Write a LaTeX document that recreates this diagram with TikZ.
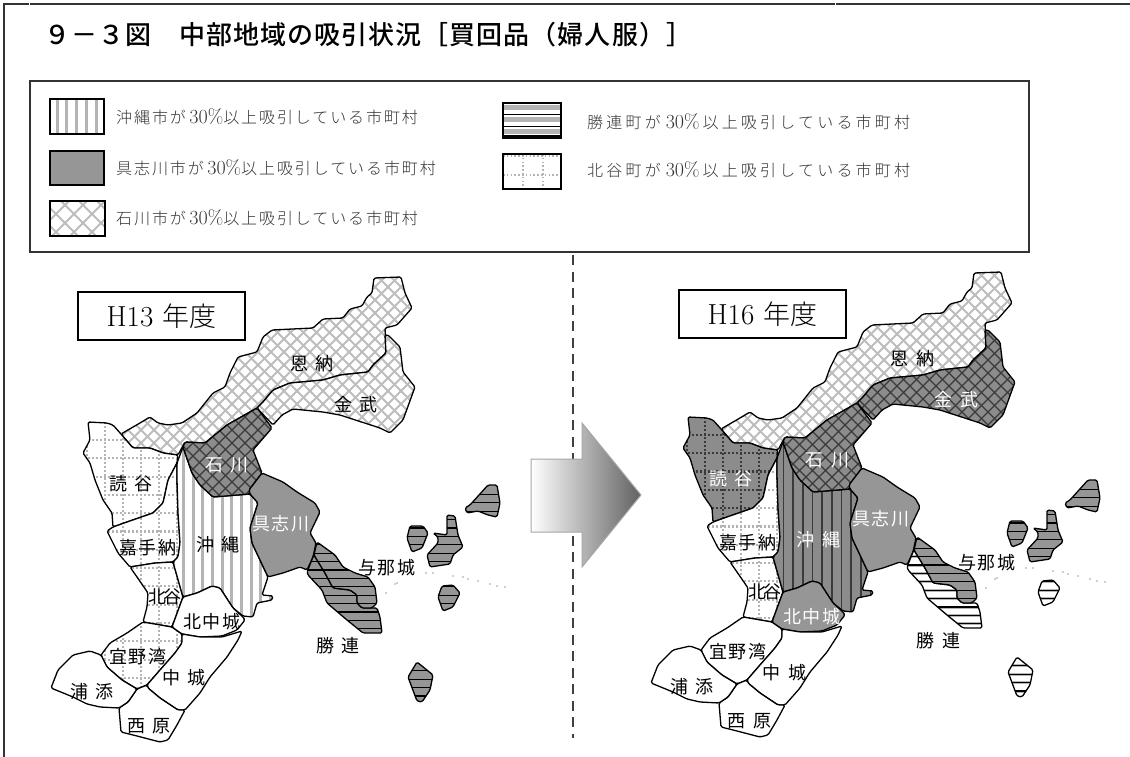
\documentclass[tikz,border=0pt]{standalone}
\usepackage{fontspec}
\usetikzlibrary{shadings}
\newfontfamily\cjs[LetterSpace=11]{Noto Sans CJK JP}
\newfontfamily\cjt[LetterSpace=-12]{Noto Sans CJK JP}
\newfontfamily\cjtitle[LetterSpace=4]{Noto Sans CJK JP Medium}
\newfontfamily\cjla[LetterSpace=12]{Noto Sans CJK JP Light}
\newfontfamily\cjlb[LetterSpace=20]{Noto Sans CJK JP Light}
\newfontfamily\cjle{Noto Sans CJK JP Light}
\newcommand\lblfont{\cjs\fontsize{18}{20}\selectfont\spaceskip=8pt\relax}
\definecolor{midgray}{HTML}{969696}
\definecolor{darkbg}{HTML}{8C8C8C}
\definecolor{lightline}{HTML}{B4B4B4}
\definecolor{crossline}{HTML}{BDBDBD}
\definecolor{darkline}{HTML}{3A3A3A}
\definecolor{framegray}{HTML}{333333}
% region outlines, in the pixels of the left map
\def\pOnna{(121,434) -- (140,423) -- (150,417) -- (158,423) -- (168,425) -- (182,423) -- (197,413) -- (205,403) -- (213,393) -- (225,387) -- (230,373) -- (238,357) -- (257,352) -- (263,337) -- (272,330) -- (313,328) -- (323,319) -- (343,318) -- (350,309) -- (362,306) -- (367,297) -- (372,293) -- (374,278) -- (401,277) -- (405,293) -- (412,308) -- (397,325) -- (385,328) -- (386,353) -- (373,365) -- (368,372) -- (340,375) -- (323,380) -- (290,383) -- (273,390) -- (263,402) -- (257,408) -- (227,425) -- (205,443) -- (185,442) -- (178,455) -- (163,453) -- (150,448) -- (133,448) -- cycle}
\def\pKin{(257,408) -- (273,425) -- (282,415) -- (293,409) -- (323,412) -- (340,415) -- (380,428) -- (390,433) -- (403,420) -- (415,387) -- (403,372) -- (400,347) -- (388,335) -- (385,335) -- (386,353) -- (373,365) -- (368,372) -- (340,375) -- (323,380) -- (290,383) -- (273,390) -- (263,402) -- cycle}
\def\pIshi{(257,408) -- (272,428) -- (253,450) -- (262,473) -- (249,490) -- (250,494) -- (213,497) -- (200,485) -- (192,473) -- (183,447) -- (185,442) -- (205,443) -- (227,425) -- cycle}
\def\pGushi{(250,494) -- (249,490) -- (262,473) -- (283,482) -- (297,492) -- (315,503) -- (320,512) -- (310,533) -- (316,543) -- (313,557) -- (307,570) -- (300,567) -- (283,573) -- (268,577) -- (260,560) -- (252,543) -- (250,528) -- (258,503) -- cycle}
\def\pOki{(183,447) -- (177,463) -- (177,480) -- (178,513) -- (180,543) -- (178,557) -- (173,562) -- (183,597) -- (197,593) -- (212,586) -- (220,588) -- (233,608) -- (243,616) -- (253,617) -- (257,603) -- (272,600) -- (273,596) -- (262,595) -- (268,577) -- (260,560) -- (252,543) -- (250,528) -- (258,503) -- (250,494) -- (213,497) -- (200,485) -- (192,473) -- cycle}
\def\pYomi{(88,422) -- (107,423) -- (113,425) -- (121,434) -- (133,448) -- (150,448) -- (163,453) -- (178,455) -- (177,463) -- (168,480) -- (163,503) -- (153,513) -- (127,522) -- (113,527) -- (112,513) -- (103,500) -- (95,480) -- (90,463) -- (83,453) -- (90,440) -- cycle}
\def\pKade{(113,527) -- (107,531) -- (118,553) -- (130,567) -- (155,563) -- (173,562) -- (178,557) -- (180,543) -- (178,513) -- (177,480) -- (177,463) -- (168,480) -- (163,503) -- (153,513) -- (127,522) -- cycle}
\def\pChat{(130,567) -- (155,563) -- (173,562) -- (183,597) -- (172,627) -- (143,622) -- (147,607) -- (148,593) -- (137,577) -- cycle}
\def\pKita{(183,597) -- (197,593) -- (212,586) -- (220,588) -- (233,608) -- (243,617) -- (245,620) -- (237,630) -- (222,636) -- (200,637) -- (182,634) -- (172,627) -- cycle}
\def\pGino{(143,622) -- (172,627) -- (182,634) -- (182,643) -- (175,653) -- (160,670) -- (147,685) -- (137,689) -- (122,680) -- (107,667) -- (101,655) -- (110,643) -- (127,633) -- cycle}
\def\pNaka{(182,634) -- (200,637) -- (222,637) -- (242,631) -- (238,640) -- (227,657) -- (210,677) -- (200,693) -- (185,710) -- (178,710) -- (160,698) -- (148,688) -- (147,685) -- (160,670) -- (175,653) -- (182,643) -- cycle}
\def\pNishi{(147,685) -- (148,688) -- (160,698) -- (178,710) -- (185,710) -- (177,725) -- (168,740) -- (160,742) -- (137,736) -- (121,732) -- (119,708) -- (128,702) -- (137,689) -- cycle}
\def\pUra{(51,688) -- (58,670) -- (73,655) -- (90,651) -- (101,655) -- (107,667) -- (122,680) -- (137,689) -- (128,702) -- (119,708) -- (100,707) -- (87,704) -- (73,697) -- cycle}
\def\pYona{(317,542) -- (335,555) -- (343,567) -- (355,573) -- (368,577) -- (375,587) -- (377,603) -- (372,608) -- (362,608) -- (357,603) -- (357,595) -- (350,590) -- (333,588) -- (325,573) -- (314,555) -- cycle}
\def\pKatsu{(313,557) -- (307,572) -- (308,575) -- (322,590) -- (327,603) -- (347,620) -- (363,633) -- (382,633) -- (380,617) -- (377,608) -- (372,608) -- (362,608) -- (357,603) -- (357,595) -- (350,590) -- (333,588) -- (325,573) -- (314,555) -- cycle}
\def\pIslA{(465,508) -- (470,505) -- (488,485) -- (497,485) -- (500,503) -- (497,517) -- (488,515) -- (478,511) -- (467,513) -- cycle}
\def\pIslB{(447,515) -- (455,516) -- (458,535) -- (463,547) -- (453,555) -- (450,564) -- (430,567) -- (427,555) -- (438,543) -- (438,537) -- (433,533) -- (447,535) -- cycle}
\def\pIslC{(410,526) -- (423,526) -- (428,533) -- (422,548) -- (412,552) -- (407,538) -- cycle}
\def\pIslD{(442,586) -- (453,585) -- (460,593) -- (453,607) -- (443,611) -- (438,597) -- cycle}
\def\pIslE{(417,662) -- (433,675) -- (430,690) -- (422,702) -- (417,701) -- (408,677) -- cycle}
% fill patterns, drawn inside a clip
\newcommand\vertpat[3]{\fill[#3] (0,90) rectangle (650,770);
  \foreach \k in {-14,...,10} \draw[#1,line width=#2] ({183.3+9.7*\k},90) -- ({183.3+9.7*\k},770);}
\newcommand\crosspat[4]{\fill[#4] (0,90) rectangle (650,770);
  \pgfmathsetmacro\secondk{-680+#1}
  \foreach \k in {-680,\secondk,...,650} {
    \draw[#2,line width=#3] (\k,90) -- ({\k+680},770);
    \draw[#2,line width=#3] (\k,770) -- ({\k+680},90);}}
\newcommand\horzpat[3]{\fill[#3] (0,90) rectangle (650,770);
  \foreach \k in {-4,...,20} {
    \ifdim#2pt>0pt \draw[lightline,line width=#2pt] (0,{528+8.4*\k}) -- (650,{528+8.4*\k});\fi
    \draw[#1,line width=1.3] (0,{528+8.4*\k}) -- (650,{528+8.4*\k});}}
\newcommand\dotpat[3]{\fill[#3] (0,90) rectangle (650,770);
  \foreach \k in {-2,...,30} \draw[#1,line width=#2,dash pattern=on 2.1pt off 1.9pt] ({105+18*\k},90) -- ({105+18*\k},770);
  \foreach \k in {-3,...,20} \draw[#1,line width=#2,dash pattern=on 2.1pt off 1.9pt] (0,{440+18.3*\k}) -- (650,{440+18.3*\k});}
\newcommand\rgn[2]{\begin{scope}[rounded corners=1.5pt]\clip #1; #2\end{scope}\draw[mapline] #1;}
\newcommand\vL{\vertpat{lightline}{3}{white}}
\newcommand\vD{\vertpat{darkline}{1.6}{darkbg}}
\newcommand\cL{\crosspat{13}{crossline}{2}{white}}
\newcommand\cD{\crosspat{13}{darkline}{1.3}{darkbg}}
\newcommand\hD{\horzpat{black}{0}{midgray}}
\newcommand\hL{\horzpat{black}{3}{white}}
\newcommand\dL{\dotpat{lightline}{2.1}{white}}
\newcommand\dD{\dotpat{darkline}{2.3}{darkbg}}
\newcommand\sG{\fill[midgray] (0,90) rectangle (650,770);}
\newcommand\sW{\fill[white] (0,90) rectangle (650,770);}
\tikzset{
  mapline/.style={draw=black,line width=1.3pt,line join=round,rounded corners=1.5pt},
  lbl/.style={font=\lblfont,inner sep=0pt,text=#1},
  lbl/.default=black,
  lbltight/.style={font=\cjt\fontsize{18}{20}\selectfont,inner sep=0pt,text=black},
  legendtext/.style={anchor=west,inner sep=0pt,font=\fontsize{20}{22}\selectfont,text=framegray},
  swatch/.style={draw=black,line width=1.3pt},
  framerule/.style={draw=framegray,line width=1.2pt},
  yearbox/.style={draw=black,line width=1.2pt,minimum width=167pt,minimum height=48pt,inner sep=0pt,font=\fontsize{29}{32}\selectfont}
}
\newcommand\lgA[2]{{\cjla\fontsize{16}{18}\selectfont #1}\hspace{3.5pt}30\%{\cjla\fontsize{16}{18}\selectfont #2}}
\newcommand\lgB[2]{{\cjlb\fontsize{16}{18}\selectfont #1}\hspace{5pt}30\%\hspace{3pt}{\cjlb\fontsize{16}{18}\selectfont #2}}
\newcommand\yearlbl[1]{#1\hspace{9pt}{\cjle\fontsize{27}{30}\selectfont 年度}}
\newcommand\scatter{\foreach \p in {(386,593),(395,584),(397,583),(426,573),(433,573),(453,576),(463,577),(468,579),(478,581),(490,584),(497,586),(505,587)} \fill[black!80] \p circle (0.6);}
\begin{document}
\begin{tikzpicture}[x=1pt,y=-1pt]
\useasboundingbox (0,0) rectangle (1130,757);
\fill[white] (0,0) rectangle (1130,757);
% page frame
\coordinate (f1) at (4,757); \coordinate (f2) at (4,4); \coordinate (f3) at (1130,4);
\draw[framerule] (f1) -- (f2) -- (f3);
\fill[white] (28.5,2) rectangle (29.8,6); \fill[white] (834.6,2) rectangle (835.8,6);
% title
\node (title) [anchor=west,inner sep=0pt,font=\cjtitle\fontsize{26}{30}\selectfont] at (44,35) {９－３図　中部地域の吸引状況［買回品（婦人服）］};
% legend
\node (legendbox) [draw=framegray,line width=1.2pt,minimum width=999pt,minimum height=171pt,inner sep=0pt] at (529.5,166.5) {};
\begin{scope}\clip (50,99) rectangle (104,134); \vL\end{scope}
\draw[swatch] (50,99) rectangle (104,134);
\fill[midgray,draw=black,line width=1.3pt] (50,151) rectangle (104,185);
\begin{scope}\clip (50,201) rectangle (105,236); \crosspat{18}{crossline}{1.8}{white}\end{scope}
\draw[swatch] (50,201) rectangle (105,236);
\begin{scope}\clip (503,103) rectangle (561,138); \fill[white] (503,103) rectangle (561,138);
  \foreach \yy in {108,120,132} \fill[lightline] (503,\yy-2.5) rectangle (561,\yy+2.5);
  \foreach \yy in {114.5,126.5,136} \draw[black,line width=1.5pt] (503,\yy) -- (561,\yy);\end{scope}
\draw[swatch] (503,103) rectangle (561,138);
\begin{scope}\clip (503,154) rectangle (561,189);
  \foreach \xx in {523,543} \draw[lightline,line width=1.5pt,dash pattern=on 1.6pt off 2.2pt] (\xx,154) -- (\xx,189);
  \foreach \yy in {156,175} \draw[lightline,line width=1.5pt,dash pattern=on 1.6pt off 2.2pt] (503,\yy) -- (561,\yy);\end{scope}
\draw[swatch] (503,154) rectangle (561,189);
\node (leg1) [legendtext] at (116,117) {\lgA{沖縄市が}{以上吸引している市町村}};
\node (leg2) [legendtext] at (116,168) {\lgA{具志川市が}{以上吸引している市町村}};
\node (leg3) [legendtext] at (116,218) {\lgA{石川市が}{以上吸引している市町村}};
\node (leg4) [legendtext] at (587,122) {\lgB{勝連町が}{以上吸引している市町村}};
\node (leg5) [legendtext] at (587,170) {\lgB{北谷町が}{以上吸引している市町村}};
% divider and arrow
\coordinate (d1) at (573,255); \coordinate (d2) at (573,738);
\draw[black!75,line width=1.2pt,dash pattern=on 10pt off 6.5pt] (d1) -- (d2);
\draw[draw=black!35,line width=1pt,left color=white,right color=black!62]
  (531,459) -- (582,459) -- (582,423) -- (641,495) -- (582,567) -- (582,532) -- (531,532) -- cycle;
% year boxes
\node (y13) [yearbox] at (161.5,316) {\yearlbl{H13}};
\node (y16) [yearbox] at (762.5,314) {\yearlbl{H16}};
% --- H13 map ---
\rgn{\pOnna}{\cL}
\rgn{\pKin}{\cL}
\rgn{\pYomi}{\dL}
\rgn{\pKade}{\dL}
\rgn{\pChat}{\dL}
\rgn{\pGino}{\dL}
\rgn{\pOki}{\vL}
\rgn{\pKita}{\sW}
\rgn{\pNaka}{\sW}
\rgn{\pNishi}{\sW}
\rgn{\pUra}{\sW}
\rgn{\pIshi}{\cD}
\rgn{\pGushi}{\sG}
\rgn{\pKatsu}{\hD}
\rgn{\pYona}{\hD}
\rgn{\pIslA}{\hD}
\rgn{\pIslB}{\hD}
\rgn{\pIslC}{\hD}
\rgn{\pIslD}{\hD}
\rgn{\pIslE}{\hD}
\scatter
\node (a1) [lbl] at (312,364) {恩 納};
\node (a2) [lbl] at (356,405) {金 武};
\node (a3) [lbl=white] at (227,465) {石 川};
\node (a4) [lbl] at (131,484) {読 谷};
\node (a5) [lbl] at (218,545) {沖 縄};
\node (a6) [lbl] at (148,548) {嘉手納};
\node (a7) [lbl=white] at (281,524) {具志川};
\node (a8) [lbltight] at (165,597) {北谷};
\node (a9) [lbl] at (212,622) {北中城};
\node (a10) [lbl] at (138,657) {宜野湾};
\node (a11) [lbl] at (184,678) {中 城};
\node (a12) [lbl] at (92,692) {浦 添};
\node (a13) [lbl] at (149,726) {西 原};
\node (a14) [lbl] at (387,568) {与那城};
\node (a15) [lbl] at (338,646) {勝 連};
% --- H16 map ---
\begin{scope}[shift={(600,-5)}]
\rgn{\pOnna}{\cL}
\rgn{\pKin}{\cD}
\rgn{\pYomi}{\dD}
\rgn{\pKade}{\dL}
\rgn{\pChat}{\dL}
\rgn{\pGino}{\sW}
\rgn{\pOki}{\vD}
\rgn{\pKita}{\sG}
\rgn{\pNaka}{\sW}
\rgn{\pNishi}{\sW}
\rgn{\pUra}{\sW}
\rgn{\pIshi}{\cD}
\rgn{\pGushi}{\sG}
\rgn{\pKatsu}{\hL}
\rgn{\pYona}{\hD}
\rgn{\pIslA}{\hD}
\rgn{\pIslB}{\hD}
\rgn{\pIslC}{\hD}
\rgn{\pIslD}{\hL}
\rgn{\pIslE}{\hL}
\scatter
\node (b1) [lbl] at (312,364) {恩 納};
\node (b2) [lbl=white] at (356,405) {金 武};
\node (b3) [lbl=white] at (227,465) {石 川};
\node (b4) [lbl=white] at (131,484) {読 谷};
\node (b5) [lbl=white] at (218,545) {沖 縄};
\node (b6) [lbl] at (148,548) {嘉手納};
\node (b7) [lbl=white] at (281,524) {具志川};
\node (b8) [lbltight] at (165,597) {北谷};
\node (b9) [lbl=white] at (212,622) {北中城};
\node (b10) [lbl] at (138,657) {宜野湾};
\node (b11) [lbl] at (184,678) {中 城};
\node (b12) [lbl] at (92,692) {浦 添};
\node (b13) [lbl] at (149,726) {西 原};
\node (b14) [lbl] at (387,568) {与那城};
\node (b15) [lbl] at (338,646) {勝 連};
\end{scope}
\end{tikzpicture}
\end{document}
